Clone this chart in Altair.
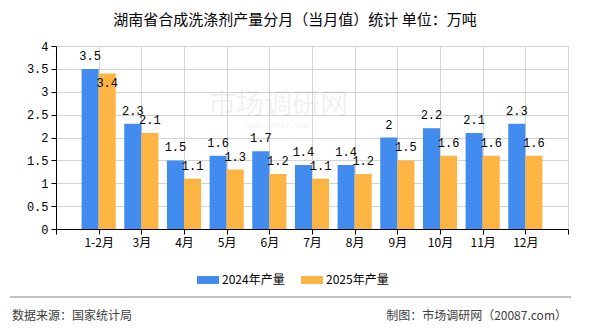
import json
import altair as alt
import pandas as pd

months = ["1-2月", "3月", "4月", "5月", "6月", "7月", "8月", "9月", "10月", "11月", "12月"]
v2024 = [3.5, 2.3, 1.5, 1.6, 1.7, 1.4, 1.4, 2, 2.2, 2.1, 2.3]
v2025 = [3.4, 2.1, 1.1, 1.3, 1.2, 1.1, 1.2, 1.5, 1.6, 1.6, 1.6]
series_names = ["2024年产量", "2025年产量"]
colors = ["#428BEF", "#FDB443"]
y_ticks = [0, 0.5, 1, 1.5, 2, 2.5, 3, 3.5, 4]

title_text = "湖南省合成洗涤剂产量分月（当月值）统计 单位：万吨"
source_text = "数据来源：国家统计局"
credit_text = "制图：市场调研网（20087.com）"

rows = []
for i, m in enumerate(months):
    rows.append({"pos": i + 1, "month": m, "series": series_names[0], "v": v2024[i], "other": v2025[i]})
    rows.append({"pos": i + 1, "month": m, "series": series_names[1], "v": v2025[i], "other": v2024[i]})
df = pd.DataFrame(rows)

CJK = "Noto Sans CJK SC"
MONO = "Liberation Mono"

label_expr = ("datum.value >= 1 && datum.value <= %d ? %s[datum.value - 1] : ''"
              % (len(months), json.dumps(months, ensure_ascii=False)))

xscale = alt.Scale(domain=[0, len(months) + 1], nice=False, zero=False)
yscale = alt.Scale(domain=[0, 4], nice=False)

xaxis = alt.Axis(
    values=list(range(0, len(months) + 2)), labelExpr=label_expr, title=None,
    grid=True, gridColor="#d4d4d4", domainColor="#000000", tickColor="#000000",
    tickSize=5, labelFont=CJK, labelFontSize=12, labelColor="#000000",
    labelPadding=3, labelFlush=False, labelOverlap=False)
yaxis = alt.Axis(
    values=y_ticks, format="~g", title=None, grid=True, gridColor="#d4d4d4",
    domainColor="#000000", tickColor="#000000", tickSize=5, labelFont=MONO,
    labelFontSize=12, labelColor="#000000", labelPadding=3, labelOverlap=False)

base = alt.Chart(df).transform_calculate(
    x1="datum.pos + (datum.series == '%s' ? -0.4 : 0)" % series_names[0],
    x2="datum.pos + (datum.series == '%s' ? 0 : 0.4)" % series_names[0],
    xc="datum.pos + (datum.series == '%s' ? -0.2 : 0.2)" % series_names[0],
    inside="datum.series == '%s' && abs(datum.other - datum.v) < 0.15 ? 1 : 0" % series_names[1],
)

bars = base.mark_bar().encode(
    x=alt.X("x1:Q", scale=xscale, axis=xaxis),
    x2="x2:Q",
    y=alt.Y("v:Q", scale=yscale, axis=yaxis),
    y2=alt.datum(0),
    color=alt.Color("series:N", scale=alt.Scale(domain=series_names, range=colors),
                    legend=alt.Legend(orient="none", legendX=141, legendY=223,
                                      direction="horizontal", title=None,
                                      symbolType="M-1,-0.36L1,-0.36L1,0.36L-1,0.36Z",
                                      symbolSize=484, symbolStrokeWidth=0, symbolOpacity=1,
                                      labelFont=CJK, labelFontSize=12, labelColor="#000000",
                                      labelOffset=3, columnPadding=16, padding=0)),
)

labels_out = base.transform_filter("datum.inside == 0").mark_text(
    font=MONO, fontSize=12, dy=-9, baseline="alphabetic", color="#000000"
).encode(x=alt.X("xc:Q", scale=xscale, axis=xaxis), y=alt.Y("v:Q", scale=yscale, axis=yaxis),
         text=alt.Text("v:Q", format="~g"))

labels_in = base.transform_filter("datum.inside == 1").mark_text(
    font=MONO, fontSize=12, dy=14, baseline="alphabetic", color="#000000"
).encode(x=alt.X("xc:Q", scale=xscale, axis=xaxis), y=alt.Y("v:Q", scale=yscale, axis=yaxis),
         text=alt.Text("v:Q", format="~g"))

one = alt.Chart(pd.DataFrame({"a": [0]}))

wm1 = one.mark_text(text="市场调研网", font=CJK, fontSize=28, color="#000000", opacity=0.05,
                    align="center", baseline="middle").encode(x=alt.value(222), y=alt.value(60))
wm2 = one.mark_text(text="www.20087.com", font=MONO, fontSize=8, color="#000000",
                    opacity=0.05, align="center", baseline="middle").encode(x=alt.value(222), y=alt.value(80))

rule = one.mark_rule(color="#808080", strokeWidth=1).encode(
    x=alt.value(-46), x2=alt.value(515), y=alt.value(251))
src = one.mark_text(text=source_text, font=CJK, fontSize=12, color="#404040",
                    align="left", baseline="middle").encode(x=alt.value(-44), y=alt.value(270))
cred = one.mark_text(text=credit_text, font=CJK, fontSize=12, color="#404040",
                     align="right", baseline="middle").encode(x=alt.value(511), y=alt.value(270))

chart = alt.layer(wm1, wm2, bars, labels_out, labels_in, rule, src, cred).properties(
    width=512, height=183,
    title=alt.TitleParams(title_text, font=CJK, fontSize=15, fontWeight="normal",
                          color="#000000", anchor="middle", offset=12, dx=-17),
    autosize=alt.AutoSizeParams(type="none"),
    padding={"left": 56, "top": 46, "right": 22, "bottom": 101},
).configure_view(stroke=None).configure(background="#ffffff")

chart.save("out.html", embed_options={"renderer": "svg", "actions": False})
